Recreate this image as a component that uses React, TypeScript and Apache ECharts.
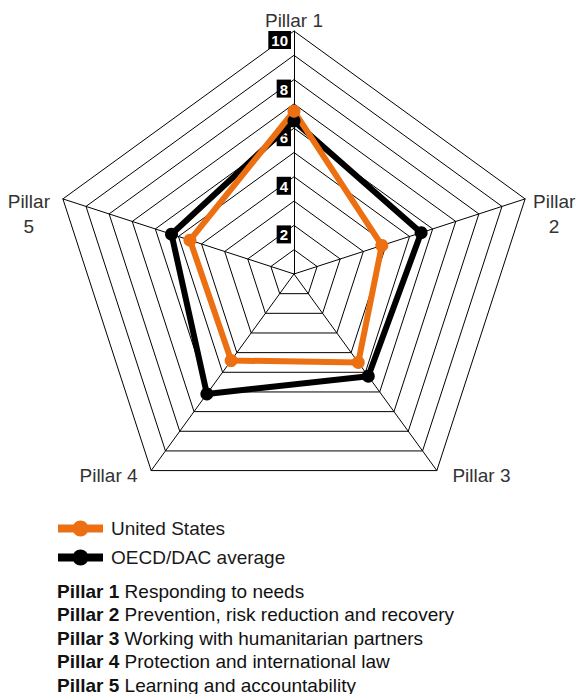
import React, { useEffect, useRef } from 'react';
import * as echarts from 'echarts';

const FONT = '"Liberation Sans", Arial, Helvetica, sans-serif';

const pillarNames = ['Pillar 1', 'Pillar 2', 'Pillar 3', 'Pillar 4', 'Pillar 5'];
const pillarDescriptions = [
  'Responding to needs',
  'Prevention, risk reduction and recovery',
  'Working with humanitarian partners',
  'Protection and international law',
  'Learning and accountability',
];
const scoreMin = 0;
const scoreMax = 10;
const scoreLabels = [2, 4, 6, 8, 10];
const seriesNames = ['United States', 'OECD/DAC average'];
const unitedStatesScores = [6.7, 3.8, 4.5, 4.4, 4.5];
const oecdDacAverageScores = [6.3, 5.5, 5.2, 6.1, 5.3];

// ECharts lays radar indicators out counter-clockwise; this order puts the pillars clockwise.
const clockwiseOrder = [0, 4, 3, 2, 1];

const ORANGE = '#EC7011';
const BLACK = '#000000';
const LEGEND_ICON =
  'path://M0,4H45V12H0Z M14.5,8a8,8 0 1,1 16,0a8,8 0 1,1 -16,0Z';
const FS = 19;

export default function App() {
  const ref = useRef<HTMLDivElement>(null);

  useEffect(() => {
    if (!ref.current) return;
    const chart = echarts.init(ref.current, null, { renderer: 'svg' });

    const base = { fontSize: FS, fontFamily: FONT, color: '#333' };
    const nameRich = {
      p1: { ...base },
      p2: { ...base, align: 'center', lineHeight: 25, padding: [31, 0, 0, 7] },
      p3: { ...base, padding: [9, 0, 0, 15] },
      p4: { ...base, padding: [9, 13, 0, 0] },
      p5: { ...base, align: 'center', lineHeight: 25, padding: [31, 12, 0, 0] },
    };

    const indicator = clockwiseOrder.map((pi) => {
      const ind: any = { name: pillarNames[pi], min: scoreMin, max: scoreMax };
      if (pi === 0) {
        ind.axisLabel = {
          show: true,
          align: 'right',
          verticalAlign: 'top',
          margin: 3,
          formatter: (v: number) =>
            scoreLabels.indexOf(Math.round(v)) >= 0 ? `{b|${Math.round(v)}}` : '',
          rich: {
            b: {
              backgroundColor: '#000',
              color: '#fff',
              fontWeight: 'bold',
              fontSize: 15,
              fontFamily: FONT,
              padding: [2, 3, 1, 3],
            },
          },
        };
      }
      return ind;
    });

    const option: any = {
      animation: false,
      textStyle: { fontFamily: FONT },
      legend: {
        orient: 'vertical',
        left: 58,
        top: 519,
        padding: 0,
        itemWidth: 45,
        itemHeight: 16,
        itemGap: 10,
        icon: LEGEND_ICON,
        data: seriesNames,
        selectedMode: false,
        textStyle: { fontSize: FS, color: '#1a1a1a', fontFamily: FONT, padding: [0, 0, 0, 3] },
      },
      radar: {
        center: [294, 274],
        radius: 243,
        startAngle: 90,
        shape: 'polygon',
        splitNumber: scoreMax - scoreMin,
        nameGap: 1,
        axisName: {
          fontSize: FS,
          color: '#333',
          fontFamily: FONT,
          formatter: (name: string) => {
            const i = pillarNames.indexOf(name);
            const key = 'p' + (i + 1);
            if (i === 1 || i === 4) {
              const parts = name.split(' ');
              return `{${key}|${parts[0]}}\n{${key}|${parts[1]}}`;
            }
            return `{${key}|${name}}`;
          },
          rich: nameRich,
        },
        axisLine: { show: true, lineStyle: { color: '#000', width: 1 } },
        splitLine: { show: true, lineStyle: { color: '#000', width: 1 } },
        splitArea: { show: false },
        axisTick: { show: false },
        axisLabel: { show: false },
        indicator,
      },
      series: [
        {
          type: 'radar',
          data: [
            {
              name: seriesNames[1],
              value: clockwiseOrder.map((i) => oecdDacAverageScores[i]),
              symbol: 'circle',
              symbolSize: 13,
              itemStyle: { color: BLACK },
              lineStyle: { color: BLACK, width: 6 },
            },
            {
              name: seriesNames[0],
              value: clockwiseOrder.map((i) => unitedStatesScores[i]),
              symbol: 'circle',
              symbolSize: 13,
              itemStyle: { color: ORANGE },
              lineStyle: { color: ORANGE, width: 6 },
            },
          ],
        },
      ],
      graphic: pillarNames.map((p, i) => ({
        type: 'text',
        x: 57,
        y: 591 + i * 23.5,
        style: {
          text: `{b|${p}} ${pillarDescriptions[i]}`,
          rich: { b: { fontWeight: 'bold', fontSize: FS, fontFamily: FONT, fill: '#111' } },
          fontSize: FS,
          fontFamily: FONT,
          fill: '#111',
          verticalAlign: 'middle',
        },
      })),
    };

    chart.setOption(option);
    return () => chart.dispose();
  }, []);

  return (
    <div
      ref={ref}
      style={{ position: 'absolute', left: 0, top: 0, width: 576, height: 694, background: '#fff' }}
    />
  );
}
